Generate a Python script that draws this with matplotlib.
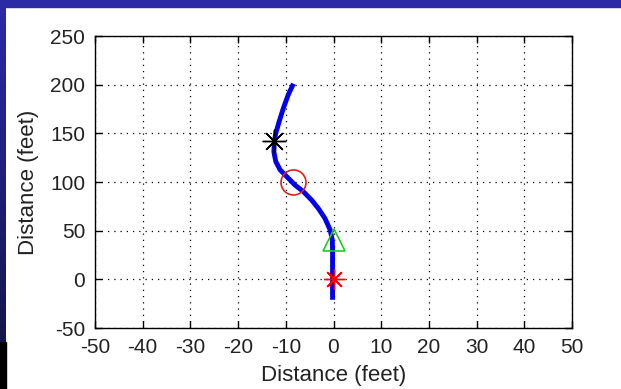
import matplotlib
matplotlib.use("Agg")
import matplotlib.pyplot as plt
import numpy as np
from matplotlib.colors import LinearSegmentedColormap

# path of the vehicle (feet)
path_x = [-8.4, -9.5, -10.5, -11.4, -12.1, -12.4, -12.5, -12.1, -11.2, -9.8,
          -8.1, -6.3, -4.6, -3.2, -1.8, -0.7, -0.25, -0.2, -0.2]
path_y = [201, 189.5, 176, 162, 150, 141.5, 131, 121, 112.5, 105.5,
          97, 90, 81.5, 73, 62.7, 50.7, 40.4, 30, -21]

# event markers
start_pt = (0, 0)
cone_pt = (0, 40)
circle_pt = (-8.5, 100)
end_pt = (-12.5, 142)

ticks_x = np.arange(-50, 51, 10)
ticks_y = np.arange(-50, 251, 50)

plt.rcParams['font.family'] = 'Liberation Sans'
plt.rcParams['axes.unicode_minus'] = False

fig = plt.figure(figsize=(6.21, 3.89), dpi=100)
fig.patch.set_facecolor('white')

# slide background strips
fig.patches.append(plt.Rectangle((0, 382 / 389), 1, 7 / 389, transform=fig.transFigure,
                                 color='#2b2ba6', zorder=0))
fig.patches.append(plt.Rectangle((0, 0), 6 / 621, 47 / 389, transform=fig.transFigure,
                                 color='black', zorder=0))
strip = fig.add_axes([0, 47 / 389, 6 / 621, 335 / 389])
grad = np.linspace(0, 1, 100).reshape(-1, 1)
cmap = LinearSegmentedColormap.from_list('slide', ['#2b2ba6', '#15154d'])
strip.imshow(grad, aspect='auto', cmap=cmap)
strip.axis('off')

ax = fig.add_axes([95 / 621, 61 / 389, 477 / 621, 292 / 389])
ax.plot(path_x, path_y, color='#0000ee', lw=3.5, solid_capstyle='butt',
        solid_joinstyle='round')
ax.plot(*start_pt, marker=(8, 2, 0), color='red', ms=15, mew=1)
ax.plot(*cone_pt, marker='^', mfc='none', mec='#22cc22', ms=16, mew=1.2)
ax.plot(*circle_pt, marker='o', mfc='none', mec='#dd2222', ms=18, mew=1.2)
ax.plot(*end_pt, marker=(8, 2, 0), color='black', ms=17, mew=1)

ax.set_xlim(-50, 50)
ax.set_ylim(-50, 250)
ax.set_xticks(ticks_x)
ax.set_yticks(ticks_y)
ax.grid(True, color='black', linestyle=(0, (1, 4)), linewidth=0.9)
ax.tick_params(direction='in', length=5, width=1, top=True, right=True,
               labelsize=15, pad=7, labelcolor='#222222')
for s in ax.spines.values():
    s.set_linewidth(1)
ax.set_xlabel('Distance (feet)', fontsize=16, labelpad=6, color='#222222')
ax.set_ylabel('Distance (feet)', fontsize=16, labelpad=8, color='#222222')

fig.savefig('out.png', dpi=100)
